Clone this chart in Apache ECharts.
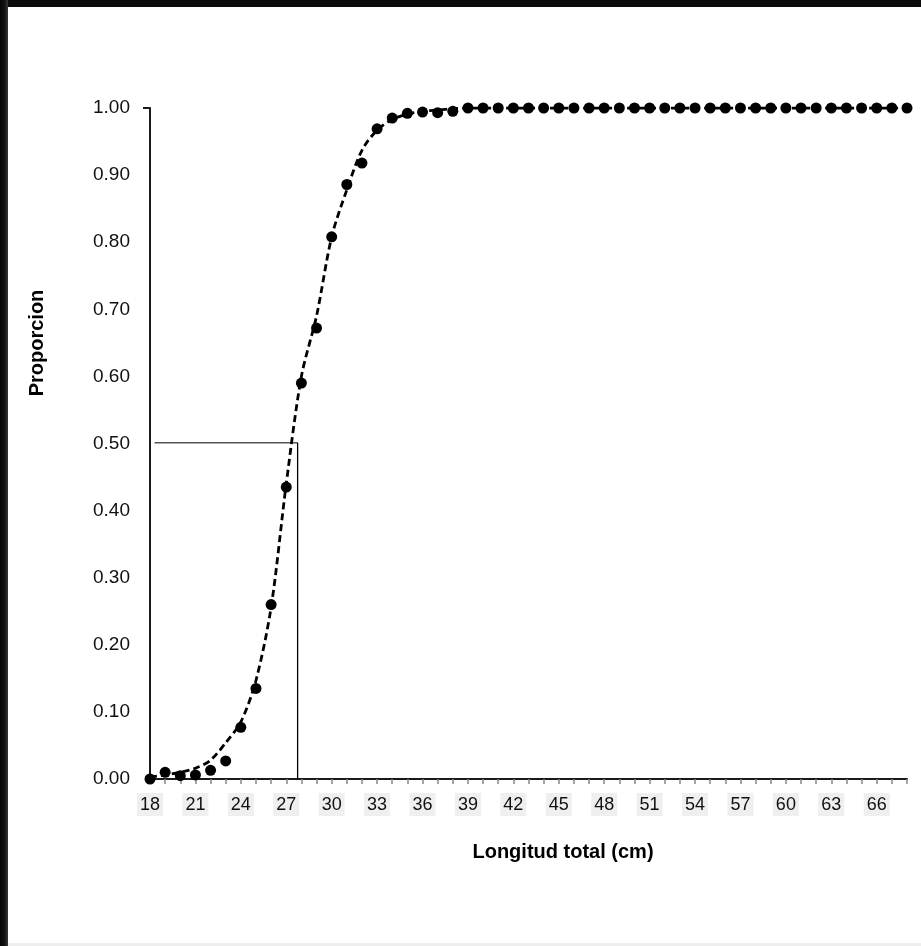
<!DOCTYPE html>
<html>
<head>
<meta charset="utf-8">
<script src="https://cdn.jsdelivr.net/npm/echarts@6/dist/echarts.min.js"></script>
<style>
  html, body { margin: 0; padding: 0; background: #ffffff; }
  #chart { width: 921px; height: 946px; }
</style>
</head>
<body>
<div id="chart"></div>
<script>
// Longitudes totales (cm), una por clase
const lengths = [18,19,20,21,22,23,24,25,26,27,28,29,30,31,32,33,34,35,36,37,38,39,40,41,42,43,44,45,46,47,48,49,50,51,52,53,54,55,56,57,58,59,60,61,62,63,64,65,66,67,68];

// Proporcion observada por clase de talla
const observed = [0.000,0.010,0.005,0.006,0.013,0.027,0.077,0.135,0.260,0.435,0.590,0.672,0.808,0.886,0.918,0.969,0.985,0.992,0.994,0.993,0.995,1,1,1,1,1,1,1,1,1,1,1,1,1,1,1,1,1,1,1,1,1,1,1,1,1,1,1,1,1,1];

// Curva ajustada (logistica) por clase de talla
const fitted = [0.003,0.006,0.010,0.016,0.028,0.054,0.085,0.147,0.256,0.440,0.600,0.690,0.808,0.878,0.937,0.967,0.983,0.991,0.995,0.997,0.999,1,1,1,1,1,1,1,1,1,1,1,1,1,1,1,1,1,1,1,1,1,1,1,1,1,1,1,1,1,1];

// Talla media de madurez (L50) y su proporcion
const l50 = 27.75;
const p50 = 0.501;
const guideStart = 18.3;

// Etiquetas del eje x (cada 3 cm)
const xTickLabels = [18,21,24,27,30,33,36,39,42,45,48,51,54,57,60,63,66];

const chart = echarts.init(document.getElementById('chart'), null, { renderer: 'canvas' });

const font = '"Liberation Sans", Arial, sans-serif';

const option = {
  backgroundColor: '#ffffff',
  animation: false,
  grid: { left: 150, right: 14, top: 108, bottom: 167, containLabel: false },
  xAxis: {
    type: 'value',
    min: 18,
    max: 68,
    interval: 1,
    splitLine: { show: false },
    axisLine: { onZero: false, lineStyle: { color: '#1a1a1a', width: 2 } },
    axisTick: { show: true, inside: false, length: 5, lineStyle: { color: '#888888', width: 1.5 } },
    axisLabel: {
      margin: 14,
      formatter: v => xTickLabels.includes(v) ? '{b|' + v + '}' : '',
      rich: {
        b: {
          fontFamily: font,
          fontSize: 18,
          color: '#111111',
          backgroundColor: '#efefef',
          padding: [3, 3, 2, 3]
        }
      }
    }
  },
  yAxis: {
    type: 'value',
    min: 0,
    max: 1,
    interval: 0.1,
    splitLine: { show: false },
    axisLine: { show: true, lineStyle: { color: '#1a1a1a', width: 2 } },
    axisTick: { show: false },
    axisLabel: {
      margin: 20,
      fontFamily: font,
      fontSize: 19,
      color: '#111111',
      formatter: v => v.toFixed(2)
    }
  },
  series: [
    {
      name: 'L50 horizontal',
      type: 'line',
      data: [[guideStart, p50], [l50, p50]],
      symbol: 'none',
      lineStyle: { color: '#000000', width: 1 },
      z: 1
    },
    {
      name: 'L50 vertical',
      type: 'line',
      data: [[l50, 0], [l50, p50]],
      symbol: 'none',
      lineStyle: { color: '#000000', width: 1.3 },
      z: 1
    },
    {
      name: 'Ajuste',
      type: 'line',
      data: lengths.map((x, i) => [x, fitted[i]]),
      smooth: 0.3,
      symbol: 'none',
      lineStyle: { color: '#000000', width: 2.8, type: [7, 4] },
      z: 2
    },
    {
      name: 'Observado',
      type: 'scatter',
      data: lengths.map((x, i) => [x, observed[i]]),
      symbol: 'circle',
      symbolSize: 11,
      itemStyle: { color: '#000000', opacity: 1 },
      z: 3
    }
  ],
  graphic: [
    // marco oscuro superior e izquierdo
    { type: 'rect', left: 0, top: 0, shape: { width: 921, height: 7 }, style: { fill: '#0b0b0b' }, z: 100 },
    {
      type: 'rect', left: 0, top: 0, shape: { width: 8, height: 946 },
      style: {
        fill: new echarts.graphic.LinearGradient(0, 0, 1, 0, [
          { offset: 0, color: '#050505' },
          { offset: 0.6, color: '#151515' },
          { offset: 1, color: '#3a3a3a' }
        ])
      },
      z: 100
    },
    { type: 'rect', left: 8, top: 943, shape: { width: 913, height: 3 }, style: { fill: '#eeeeee' }, z: 100 },
    // marca superior del eje y
    { type: 'line', shape: { x1: 143, y1: 108, x2: 150, y2: 108 }, style: { stroke: '#1a1a1a', lineWidth: 2 }, z: 50 },
    {
      type: 'text',
      x: 563, y: 852,
      style: {
        text: 'Longitud total (cm)',
        fontFamily: font, fontSize: 20, fontWeight: 'bold', fill: '#000000',
        align: 'center', verticalAlign: 'middle'
      },
      z: 100
    },
    {
      type: 'text',
      x: 37, y: 343, rotation: Math.PI / 2,
      style: {
        text: 'Proporcion',
        fontFamily: font, fontSize: 20, fontWeight: 'bold', fill: '#000000',
        align: 'center', verticalAlign: 'middle'
      },
      z: 100
    }
  ]
};

chart.setOption(option);
</script>
</body>
</html>
